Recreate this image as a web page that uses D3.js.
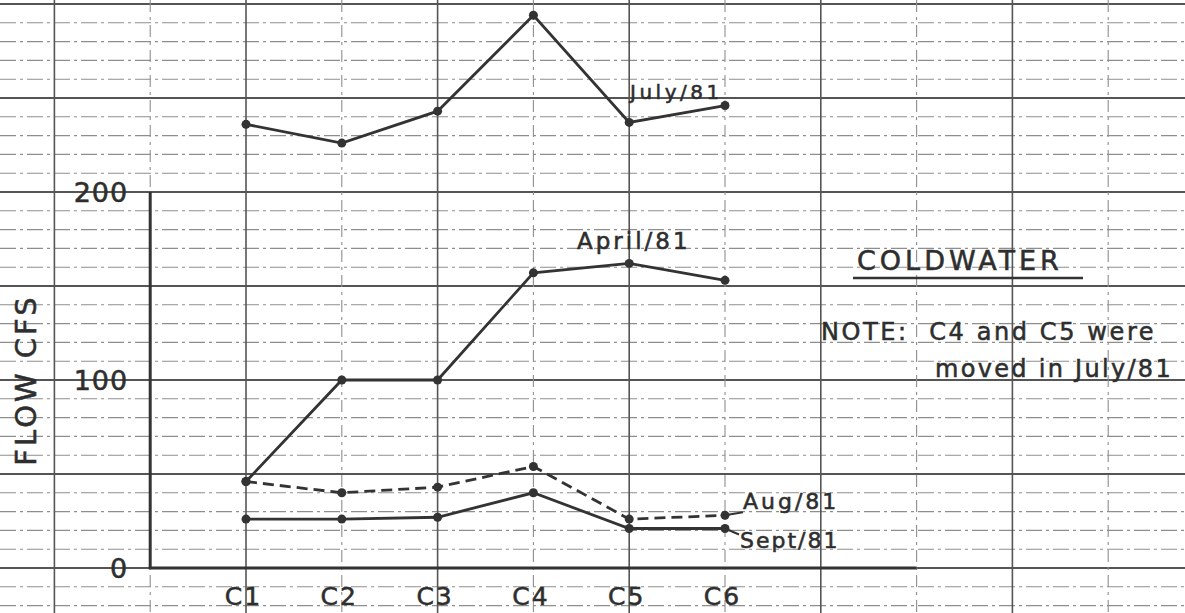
<!DOCTYPE html>
<html>
<head>
<meta charset="utf-8">
<script src="https://cdn.jsdelivr.net/npm/d3@7"></script>
<style>
  html, body { margin: 0; padding: 0; background: #ffffff; }
  svg { display: block; }
  text { font-family: "DejaVu Sans", sans-serif; fill: #2e2e2e; stroke: #2e2e2e; stroke-width: 0.55px; }
</style>
</head>
<body>
<svg id="chart" width="1185" height="613"></svg>
<script>
// ---- data ----
const categories = ["C1", "C2", "C3", "C4", "C5", "C6"];
const july  = [236, 226, 243, 294, 237, 246];
const april = [46, 100, 100, 157, 162, 153];
const aug   = [46, 40, 43, 54, 26, 28];
const sept  = [26, 26, 27, 40, 21, 21];
const yTickValues = [0, 100, 200];
const seriesNames = ["July/81", "April/81", "Aug/81", "Sept/81"];

// ---- layout ----
const W = 1185, H = 613;
const svg = d3.select("#chart");
const x = d3.scalePoint().domain(categories).range([246, 725]);
const y = d3.scaleLinear().domain([0, 200]).range([568, 192]);
const step = x.step();
const x0 = x(categories[0]);
const ink = "#333333";

// ---- graph-paper grid ----
const grid = svg.append("g");
d3.range(-20, 301, 10).forEach(v => {
  const major = v % 50 === 0;
  grid.append("line")
    .attr("x1", 0).attr("x2", W)
    .attr("y1", y(v)).attr("y2", y(v))
    .attr("stroke", major ? "#555" : "#8e8e8e")
    .attr("stroke-width", major ? 1.8 : 1.1)
    .attr("stroke-dasharray", major ? null : "16,4,3,4");
});
d3.range(-2, 10).forEach(i => {
  const xx = x0 + i * step;
  const solid = i % 2 === 0;
  grid.append("line")
    .attr("x1", xx).attr("x2", xx)
    .attr("y1", 0).attr("y2", H)
    .attr("stroke", solid ? "#555" : "#8e8e8e")
    .attr("stroke-width", solid ? 1.6 : 1.1)
    .attr("stroke-dasharray", solid ? null : "12,5,3,5");
});

// ---- axes ----
const axisX = x0 - step;
const axisEnd = x0 + 7 * step;
svg.append("line")
  .attr("x1", axisX).attr("x2", axisX)
  .attr("y1", y(200)).attr("y2", y(0))
  .attr("stroke", ink).attr("stroke-width", 3);
svg.append("line")
  .attr("x1", axisX - 1.5).attr("x2", axisEnd)
  .attr("y1", y(0)).attr("y2", y(0))
  .attr("stroke", ink).attr("stroke-width", 3);

const yAxis = d3.axisLeft(y).tickValues(yTickValues).tickSize(0).tickPadding(22)
  .tickFormat(d3.format("d"));
const gy = svg.append("g").attr("transform", `translate(${axisX},0)`).call(yAxis);
gy.select(".domain").remove();
gy.selectAll("text")
  .style("font-family", "DejaVu Sans, sans-serif")
  .style("font-size", "27px").style("letter-spacing", "1px")
  .attr("fill", ink).attr("dy", "0.36em");

const xAxis = d3.axisBottom(x).tickSize(0).tickPadding(19);
const gx = svg.append("g").attr("transform", `translate(0,${y(0)})`).call(xAxis);
gx.select(".domain").remove();
gx.selectAll("text")
  .style("font-family", "DejaVu Sans, sans-serif")
  .style("font-size", "25px").style("letter-spacing", "2px")
  .attr("fill", ink).attr("dx", "-3px");

svg.append("text")
  .attr("transform", `translate(36,${y(100)}) rotate(-90)`)
  .attr("text-anchor", "middle")
  .style("font-size", "29px").style("letter-spacing", "3px")
  .text("FLOW CFS");

// ---- series ----
const line = d3.line().x((d, i) => x(categories[i])).y(d => y(d));
const series = [
  { name: seriesNames[0], values: july,  dash: null },
  { name: seriesNames[1], values: april, dash: null },
  { name: seriesNames[2], values: aug,   dash: "11,6" },
  { name: seriesNames[3], values: sept,  dash: null }
];
series.forEach(s => {
  svg.append("path")
    .datum(s.values)
    .attr("d", line)
    .attr("fill", "none")
    .attr("stroke", ink)
    .attr("stroke-width", 2.8)
    .attr("stroke-dasharray", s.dash);
  svg.selectAll(null)
    .data(s.values)
    .enter().append("circle")
    .attr("cx", (d, i) => x(categories[i]))
    .attr("cy", d => y(d))
    .attr("r", 4.5)
    .attr("fill", ink);
});

const last = categories[categories.length - 1];
svg.append("line")
  .attr("x1", x(last)).attr("y1", y(aug[5]))
  .attr("x2", x(last) + 18).attr("y2", y(aug[5]) - 3)
  .attr("stroke", ink).attr("stroke-width", 2);
svg.append("line")
  .attr("x1", x(last)).attr("y1", y(sept[5]))
  .attr("x2", x(last) + 14).attr("y2", y(sept[5]) + 6)
  .attr("stroke", ink).attr("stroke-width", 2);

svg.append("text").attr("x", 630).attr("y", 99)
  .style("font-size", "20px").style("letter-spacing", "3.5px").text(seriesNames[0]);
svg.append("text").attr("x", 577).attr("y", 249)
  .style("font-size", "23px").style("letter-spacing", "3px").text(seriesNames[1]);
svg.append("text").attr("x", 743).attr("y", 509)
  .style("font-size", "22px").style("letter-spacing", "3px").text(seriesNames[2]);
svg.append("text").attr("x", 740).attr("y", 548)
  .style("font-size", "22px").style("letter-spacing", "2px").text(seriesNames[3]);

// ---- title & note ----
svg.append("text").attr("x", 857).attr("y", 270)
  .style("font-size", "27px").style("letter-spacing", "4px").text("COLDWATER");
svg.append("line")
  .attr("x1", 853).attr("x2", 1083).attr("y1", 278).attr("y2", 278)
  .attr("stroke", ink).attr("stroke-width", 2.5);
svg.append("text").attr("x", 821).attr("y", 340)
  .style("font-size", "24px").style("letter-spacing", "2.6px")
  .attr("xml:space", "preserve")
  .text("NOTE:  C4 and C5 were");
svg.append("text").attr("x", 935).attr("y", 377)
  .style("font-size", "24px").style("letter-spacing", "2.3px")
  .text("moved in July/81");
</script>
</body>
</html>
